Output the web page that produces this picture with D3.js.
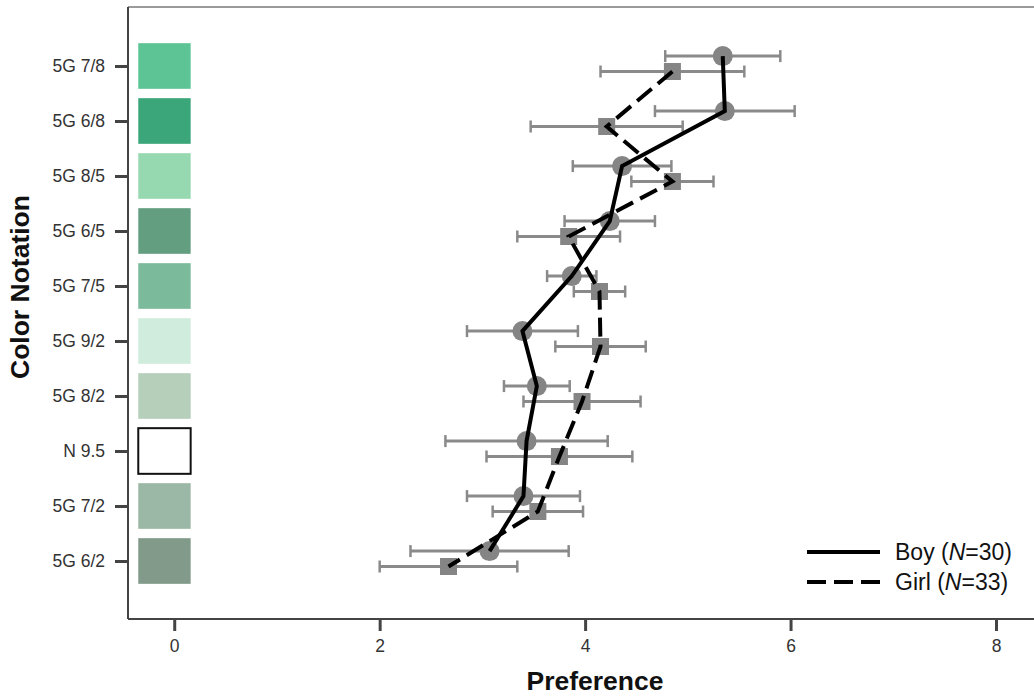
<!DOCTYPE html>
<html>
<head>
<meta charset="utf-8">
<script src="https://cdn.jsdelivr.net/npm/d3@7"></script>
<style>
  html, body { margin: 0; padding: 0; background: #fff; }
  svg { display: block; font-family: Arial, "Liberation Sans", sans-serif; }
</style>
</head>
<body>
<svg id="chart" width="1034" height="700"></svg>
<script>
// Munsell colour notations, top to bottom
const categories = ["5G 7/8", "5G 6/8", "5G 8/5", "5G 6/5", "5G 7/5", "5G 9/2", "5G 8/2", "N 9.5", "5G 7/2", "5G 6/2"];
const swatchColors = ["#5cc495", "#3aa67a", "#96d9b1", "#649e81", "#7bba9b", "#d0ecdc", "#b5cfbb", "#ffffff", "#9bb7a5", "#819a8a"];

// Mean preference and error half-widths
const boyMean  = [5.34, 5.36, 4.36, 4.24, 3.87, 3.39, 3.53, 3.43, 3.40, 3.07];
const boyErr   = [0.56, 0.68, 0.48, 0.44, 0.24, 0.54, 0.32, 0.79, 0.55, 0.77];
const girlMean = [4.85, 4.21, 4.85, 3.84, 4.14, 4.15, 3.97, 3.75, 3.54, 2.67];
const girlErr  = [0.70, 0.74, 0.40, 0.50, 0.25, 0.44, 0.57, 0.71, 0.44, 0.67];

const xTicks = [0, 2, 4, 6, 8];
const legendLabels = [["Boy (", "N", "=30)"], ["Girl (", "N", "=33)"]];

const svg = d3.select("#chart");
const plot = { left: 128, top: 7, right: 1034, bottom: 619 };

const x = d3.scaleLinear().domain([-0.45, 8.37]).range([plot.left, plot.right]);
const y = d3.scalePoint().domain(categories).range([66, 561]);
const step = y.step();

// frame: grey top rule
svg.append("line")
  .attr("x1", plot.left).attr("x2", plot.right)
  .attr("y1", plot.top).attr("y2", plot.top)
  .attr("stroke", "#9a9a9a").attr("stroke-width", 2);

// colour swatches
svg.append("g").selectAll("rect")
  .data(categories)
  .join("rect")
  .attr("x", x(-0.35))
  .attr("width", x(0.16) - x(-0.35))
  .attr("y", d => y(d) - step * 0.415)
  .attr("height", step * 0.83)
  .attr("fill", (d, i) => swatchColors[i])
  .attr("stroke", (d, i) => swatchColors[i] === "#ffffff" ? "#111" : "none")
  .attr("stroke-width", 2);

// axes
const yAxis = svg.append("g")
  .attr("transform", `translate(${plot.left},0)`)
  .call(d3.axisLeft(y).tickSize(13).tickPadding(10));
const xAxis = svg.append("g")
  .attr("transform", `translate(0,${plot.bottom})`)
  .call(d3.axisBottom(x).tickValues(xTicks).tickFormat(d3.format("d")).tickSize(12).tickPadding(9));

yAxis.select(".domain").attr("d", `M0,${plot.top}V${plot.bottom}`);
xAxis.select(".domain").attr("d", `M${plot.left},0H${plot.right}`);
[yAxis, xAxis].forEach(a => {
  a.select(".domain").attr("stroke", "#444").attr("stroke-width", 2);
  a.selectAll(".tick line").attr("stroke", "#444").attr("stroke-width", 3);
  a.selectAll(".tick text").attr("fill", "#333").style("font-size", "17.5px")
    .style("font-family", "Arial, 'Liberation Sans', sans-serif");
});

// axis titles
svg.append("text")
  .attr("x", 595).attr("y", 690)
  .attr("text-anchor", "middle")
  .style("font-size", "26.5px").style("font-weight", "bold")
  .attr("fill", "#111")
  .text("Preference");
svg.append("text")
  .attr("transform", "translate(29,287) rotate(-90)")
  .attr("text-anchor", "middle")
  .style("font-size", "26.5px").style("font-weight", "bold")
  .attr("fill", "#111")
  .text("Color Notation");

// series
const series = [
  { mean: boyMean, err: boyErr, off: -0.18, shape: "circle", dash: null },
  { mean: girlMean, err: girlErr, off: 0.1, shape: "square", dash: "19,8" }
];

const gErr = svg.append("g");
const gMark = svg.append("g");
const gLine = svg.append("g");

series.forEach(s => {
  const pts = categories.map((c, i) => ({ c, m: s.mean[i], e: s.err[i], yy: y(c) + s.off * step }));

  // error bars
  const eb = gErr.selectAll(null).data(pts).join("g")
    .attr("stroke", "#8a8a8a").attr("stroke-width", 3);
  eb.append("line")
    .attr("x1", d => x(d.m - d.e)).attr("x2", d => x(d.m + d.e))
    .attr("y1", d => d.yy).attr("y2", d => d.yy);
  eb.append("line")
    .attr("x1", d => x(d.m - d.e)).attr("x2", d => x(d.m - d.e))
    .attr("y1", d => d.yy - 6).attr("y2", d => d.yy + 6).attr("stroke-width", 2.5);
  eb.append("line")
    .attr("x1", d => x(d.m + d.e)).attr("x2", d => x(d.m + d.e))
    .attr("y1", d => d.yy - 6).attr("y2", d => d.yy + 6).attr("stroke-width", 2.5);

  // markers
  if (s.shape === "circle") {
    gMark.selectAll(null).data(pts).join("circle")
      .attr("cx", d => x(d.m)).attr("cy", d => d.yy).attr("r", 10)
      .attr("fill", "#858585");
  } else {
    gMark.selectAll(null).data(pts).join("rect")
      .attr("x", d => x(d.m) - 8.5).attr("y", d => d.yy - 8.5)
      .attr("width", 17).attr("height", 17)
      .attr("fill", "#858585");
  }

  // connecting line
  gLine.append("path")
    .datum(pts)
    .attr("d", d3.line().x(d => x(d.m)).y(d => d.yy))
    .attr("fill", "none")
    .attr("stroke", "#000")
    .attr("stroke-width", 4)
    .attr("stroke-linejoin", "miter")
    .attr("stroke-dasharray", s.dash);
});

// legend
const legend = svg.append("g");
const legendY = [552, 582];
legendLabels.forEach((lab, i) => {
  legend.append("line")
    .attr("x1", 807).attr("x2", 880)
    .attr("y1", legendY[i]).attr("y2", legendY[i])
    .attr("stroke", "#000").attr("stroke-width", 4)
    .attr("stroke-dasharray", series[i].dash);
  const t = legend.append("text")
    .attr("x", 895).attr("y", legendY[i] + 8)
    .style("font-size", "23px").attr("fill", "#111");
  t.append("tspan").text(lab[0]);
  t.append("tspan").style("font-style", "italic").text(lab[1]);
  t.append("tspan").text(lab[2]);
});
</script>
</body>
</html>
